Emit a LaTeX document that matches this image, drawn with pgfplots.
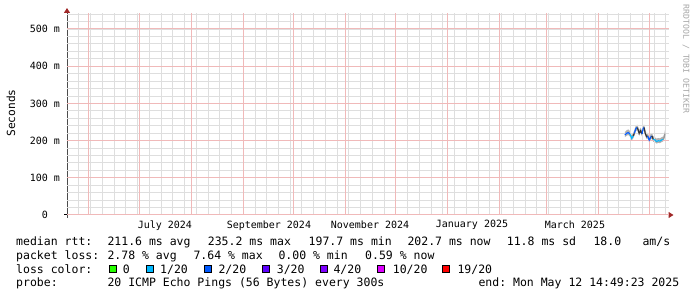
\documentclass[border=0pt]{standalone}
\usepackage{pgfplots}
\pgfplotsset{compat=1.18}
\usepgfplotslibrary{fillbetween}
\usetikzlibrary{arrows.meta}
\usepackage{fontspec}
\setmainfont{DejaVu Sans Mono}
\setmonofont{DejaVu Sans Mono}
\definecolor{cz}{HTML}{26FF00}
\definecolor{ca}{HTML}{00B8FF}
\definecolor{cb}{HTML}{0059FF}
\definecolor{cc}{HTML}{5E00FF}
\definecolor{cd}{HTML}{7E00FF}
\definecolor{ce}{HTML}{DD00FF}
\definecolor{cf}{HTML}{FF0000}
\definecolor{arrowred}{HTML}{A02828}
\definecolor{mgrid}{RGB}{240,185,185}
\definecolor{ngrid}{RGB}{222,222,222}
\pgfplotsset{base/.style={
  at={(67pt,82pt)}, anchor=south west,
  scale only axis, width=601.5pt, height=202pt,
  xmin=-13.1, xmax=345.6, ymin=0, ymax=543,
  major tick length=0pt, minor tick length=0pt,
  ticklabel style={font=\ttfamily\fontsize{10}{12}\selectfont, text=black},
}}
\begin{document}
\begin{tikzpicture}
% weekly and 20 ms grid
\begin{axis}[base, axis line style={draw=none},
  xtick={-6,1,...,344}, xticklabels={},
  ytick={20,40,...,540}, yticklabels={},
  grid=major, major grid style={ngrid, line width=0.9pt}]
\end{axis}
% 100 ms grid
\begin{axis}[base, axis line style={draw=none},
  xtick=\empty,
  ytick={0,100,200,300,400,500}, yticklabels={},
  ymajorgrids=true, major grid style={mgrid, line width=1pt}]
\end{axis}
\begin{axis}[base,
  axis lines=left,
  x axis line style={black, line width=1pt, shorten <=-3pt, shorten >=-5pt, -{Triangle[color=arrowred,length=5pt,width=6pt]}},
  y axis line style={black!70, line width=1pt, shorten <=-3pt, shorten >=-5pt, -{Triangle[color=arrowred,length=5pt,width=6pt]}},
  xtick={45.3,107.3,167.6,228.4,289.8},
  xticklabels={July 2024,September 2024,November 2024,January 2025,March 2025},
  ytick={0,100,200,300,400,500},
  yticklabels={0\hphantom{xx},100 m,200 m,300 m,400 m,500 m},
  xticklabel style={yshift=-2pt},
  yticklabel style={xshift=-3.5pt},
]
% month-start grid lines
\addplot[ycomb, mgrid, line width=1pt, mark=none, forget plot] coordinates {
(0,543)(30,543)(61,543)(92,543)(122,543)(153,543)(183,543)(214,543)(245,543)(273,543)(304,543)(334,543)};
\addplot[name path=up, draw=none, forget plot] coordinates {
(319.6,223)(320.6,228)(321.6,230)(322.6,226)(323.6,214)(324.6,221)(325.2,228)(326.2,241)(327,243)(327.5,237)(328.1,228)(329,235)(329.8,226)(330.5,241)(331.1,243)(331.7,228)(332.6,219)(333.2,221)(334.1,210)(334.9,217)(335.7,221)(336.5,212)(337.5,209)(338.5,205)(339.5,207)(340.5,206)(341.5,209)(342.5,211)(343.1,219)(343.5,228)};
\addplot[name path=lo, draw=none, forget plot] coordinates {
(319.6,209)(320.6,213)(321.6,215)(322.6,211)(323.6,200)(324.6,206)(325.2,213)(326.2,226)(327,228)(327.5,222)(328.1,213)(329,220)(329.8,211)(330.5,226)(331.1,228)(331.7,213)(332.6,204)(333.2,206)(334.1,195)(334.9,202)(335.7,206)(336.5,197)(337.5,196)(338.5,192)(339.5,194)(340.5,193)(341.5,196)(342.5,198)(343.1,204)(343.5,213)};
\addplot[black!30, forget plot] fill between[of=up and lo];
\addplot[cb, line width=1.2pt] coordinates {(319.6,215.1)(320.6,219.6)(321.6,221.3)(322.6,217.7)};
\addplot[ca, line width=1.2pt] coordinates {(322.6,217.7)(323.6,206.2)(324.6,212.4)};
\addplot[black!80, line width=1.2pt] coordinates {(324.6,212.4)(325.2,219.6)};
\addplot[cb, line width=1.2pt] coordinates {(325.2,219.6)(326.2,233)(327,235)};
\addplot[black!80, line width=1.2pt] coordinates {(327,235)(327.5,228.5)(328.1,219.6)(329,226.6)(329.8,217.7)};
\addplot[cb, line width=1.2pt] coordinates {(329.8,217.7)(330.5,233)(331.1,235)};
\addplot[black!80, line width=1.2pt] coordinates {(331.1,235)(331.7,219.6)(332.6,210.5)(333.2,212.4)};
\addplot[cb, line width=1.2pt] coordinates {(333.2,212.4)(334.1,201.6)(334.9,208.9)(335.7,212.4)};
\addplot[black!80, line width=1.2pt] coordinates {(335.7,212.4)(336.5,203.5)};
\addplot[ca, line width=1.2pt] coordinates {(336.5,203.5)(337.5,201.6)(338.5,197.7)(339.5,199.7)(340.5,198.9)(341.5,201.6)(342.5,203.5)};
\addplot[black!40, line width=1.2pt] coordinates {(342.5,203.5)(343.1,210)(343.5,219)};
\end{axis}
\node[rotate=90, font=\ttfamily\fontsize{11.2}{13}\selectfont] at (11pt,184pt) {Seconds};
\node[rotate=-90, font=\ttfamily\fontsize{8.2}{10}\selectfont, text=black!35] at (686pt,238pt) {RRDTOOL / TOBI OETIKER};
\begin{scope}[every node/.style={anchor=base west, inner sep=0pt, font=\ttfamily\fontsize{11.5}{13}\selectfont}]
\node at (16pt,51.5pt) {median rtt:};
\node at (107.3pt,51.5pt) {211.6 ms avg};
\node at (207.7pt,51.5pt) {235.2 ms max};
\node at (308.5pt,51.5pt) {197.7 ms min};
\node at (407.3pt,51.5pt) {202.7 ms now};
\node at (506.7pt,51.5pt) {11.8 ms sd};
\node at (593.3pt,51.5pt) {18.0};
\node at (642.3pt,51.5pt) {am/s};
\node at (16pt,37.7pt) {packet loss:};
\node at (107.3pt,37.7pt) {2.78 \% avg};
\node at (193.3pt,37.7pt) {7.64 \% max};
\node at (278.3pt,37.7pt) {0.00 \% min};
\node at (365pt,37.7pt) {0.59 \% now};
\node at (16pt,23.9pt) {loss color:};
\node at (122.7pt,23.9pt) {0};
\node at (160pt,23.9pt) {1/20};
\node at (218.3pt,23.9pt) {2/20};
\node at (276.7pt,23.9pt) {3/20};
\node at (333.3pt,23.9pt) {4/20};
\node at (392.7pt,23.9pt) {10/20};
\node at (457.3pt,23.9pt) {19/20};
\node at (16pt,10.1pt) {probe:};
\node at (107.3pt,10.1pt) {20 ICMP Echo Pings (56 Bytes) every 300s};
\node at (478.3pt,10.1pt) {end: Mon May 12 14:49:23 2025};
\end{scope}
\begin{scope}[every node/.style={draw=black, line width=0.8pt, anchor=south west, inner sep=0pt, minimum width=7pt, minimum height=7pt}]
\node[fill=cz] at (109pt,24pt) {};
\node[fill=ca] at (146pt,24pt) {};
\node[fill=cb] at (204pt,24pt) {};
\node[fill=cc] at (262.3pt,24pt) {};
\node[fill=cd] at (320pt,24pt) {};
\node[fill=ce] at (376.7pt,24pt) {};
\node[fill=cf] at (441.7pt,24pt) {};
\end{scope}
\pgfresetboundingbox
\path[use as bounding box] (0,0) rectangle (697pt,297pt);
\end{tikzpicture}
\end{document}
